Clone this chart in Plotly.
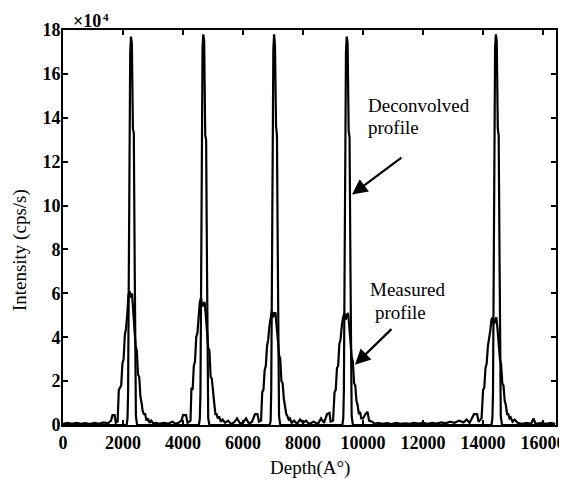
import plotly.graph_objects as go

# ---------------- data (depth in Å, intensity in units of 1e4 cps/s) ----------------
measured_depth = [
    0, 150, 300, 450, 600, 750, 900, 1050, 1200, 1350, 1500, 1600, 1650, 1720, 1760, 1820,
    1860, 1900, 1940, 1980, 2020, 2060, 2100, 2140, 2180, 2220, 2260, 2300, 2340, 2380, 2420,
    2460, 2500, 2540, 2580, 2620, 2660, 2700, 2740, 2780, 2830, 2880, 2940, 3000,
    3100, 3200, 3350, 3500, 3650, 3750, 3850, 3950, 4000, 4100, 4150, 4250,
    4280, 4320, 4360, 4400, 4440, 4480, 4520, 4560, 4600, 4640, 4680, 4720, 4760, 4800, 4840,
    4880, 4920, 4960, 5000, 5040, 5080, 5120, 5160, 5200, 5260, 5320, 5400,
    5500, 5600, 5700, 5800, 5900, 6000, 6100, 6200, 6300, 6400, 6480, 6530, 6600,
    6640, 6680, 6720, 6760, 6800, 6840, 6880, 6920, 6960, 7000, 7040, 7080, 7120, 7160, 7200,
    7240, 7280, 7320, 7360, 7400, 7440, 7480, 7520, 7560, 7620, 7700,
    7800, 7900, 8000, 8100, 8200, 8350, 8500, 8600, 8700, 8800, 8880, 8920, 9000,
    9050, 9090, 9130, 9170, 9210, 9250, 9290, 9330, 9380, 9420, 9460, 9500, 9540, 9580, 9620,
    9660, 9700, 9740, 9780, 9820, 9860, 9900, 9940, 10000, 10080, 10150, 10200, 10300, 10400,
    10500, 10650, 10800, 10950, 11100, 11250, 11400, 11550, 11700, 11850, 12000, 12150, 12300,
    12450, 12600, 12750, 12900, 13050, 13200, 13350, 13450, 13550, 13700, 13800, 13850, 13950,
    14000, 14040, 14080, 14120, 14160, 14200, 14240, 14280, 14320, 14360, 14400, 14440, 14480,
    14520, 14560, 14600, 14640, 14680, 14720, 14760, 14800, 14840, 14880, 14920, 14980,
    15050, 15150, 15300, 15450, 15600, 15680, 15750, 15950, 16100, 16250, 16400,
]
measured_intensity = [
    0.05, 0.1, 0.05, 0.1, 0.05, 0.08, 0.04, 0.1, 0.05, 0.12, 0.08, 0.2, 0.45, 0.45, 0.1, 0.15,
    1.6, 1.7, 1.8, 2.8, 3.0, 4.1, 4.4, 5.0, 5.9, 6.1, 5.8, 6.0, 5.3, 4.5, 3.6,
    3.4, 2.3, 2.2, 1.3, 1.0, 0.6, 0.5, 0.5, 0.2, 0.3, 0.1, 0.2, 0.08,
    0.1, 0.05, 0.1, 0.06, 0.15, 0.05, 0.1, 0.2, 0.45, 0.45, 0.1, 0.2,
    1.7, 1.6, 2.7, 2.9, 4.0, 4.2, 4.8, 5.6, 5.8, 5.4, 5.5, 5.6, 5.0, 4.3, 3.5,
    3.4, 2.2, 2.1, 1.3, 1.0, 0.5, 0.5, 0.3, 0.4, 0.15, 0.25, 0.1,
    0.2, 0.05, 0.12, 0.3, 0.08, 0.1, 0.3, 0.06, 0.15, 0.5, 0.5, 0.15, 0.2,
    1.5, 1.6, 2.5, 2.7, 3.6, 3.9, 4.5, 5.0, 5.2, 4.9, 5.1, 5.1, 4.6, 3.9, 3.2,
    3.0, 2.0, 1.9, 1.2, 0.9, 0.5, 0.4, 0.25, 0.3, 0.1, 0.2,
    0.05, 0.25, 0.1, 0.2, 0.05, 0.15, 0.05, 0.3, 0.1, 0.5, 0.55, 0.15, 0.2,
    1.5, 1.6, 2.6, 2.7, 3.7, 3.9, 4.5, 4.9, 5.1, 4.8, 5.0, 5.1, 4.5, 3.8, 3.1,
    2.9, 1.9, 1.8, 1.1, 0.9, 0.5, 0.6, 0.3, 0.3, 0.5, 0.6, 0.2, 0.15, 0.05,
    0.1, 0.05, 0.08, 0.04, 0.1, 0.05, 0.08, 0.05, 0.1, 0.06, 0.1, 0.05, 0.1,
    0.06, 0.12, 0.08, 0.15, 0.1, 0.2, 0.12, 0.25, 0.1, 0.5, 0.5, 0.15, 0.3,
    1.6, 1.7, 2.6, 2.8, 3.6, 3.9, 4.3, 4.8, 4.9, 4.6, 4.8, 4.9, 4.4,
    3.7, 3.0, 2.8, 1.9, 1.8, 1.1, 0.9, 0.5, 0.5, 0.3, 0.35, 0.15,
    0.25, 0.1, 0.05, 0.1, 0.05, 0.3, 0.05, 0.1, 0.05, 0.1, 0.05,
]

deconvolved_depth = [
    0, 2120, 2150, 2170, 2190, 2210, 2240, 2265, 2295, 2330, 2360, 2390, 2410, 2430, 2470,
    4530, 4560, 4580, 4600, 4620, 4650, 4675, 4705, 4740, 4770, 4800, 4820, 4840, 4880,
    6890, 6920, 6940, 6960, 6980, 7010, 7035, 7065, 7100, 7130, 7160, 7180, 7200, 7240,
    9310, 9340, 9360, 9380, 9400, 9430, 9455, 9485, 9520, 9550, 9580, 9600, 9620, 9660,
    14280, 14310, 14330, 14350, 14370, 14400, 14425, 14455, 14490, 14520, 14550, 14570, 14590, 14630,
    16400,
]
deconvolved_intensity = [
    0, 0, 0.3, 1.5, 6.2, 12.7, 17.0, 17.7, 17.4, 13.5, 13.3, 7.2, 2.3, 0.4, 0,
    0, 0.3, 1.4, 5.8, 12.4, 17.2, 17.8, 17.5, 13.2, 13.0, 7.0, 2.1, 0.3, 0,
    0, 0.2, 1.6, 6.0, 12.9, 17.1, 17.8, 17.3, 13.6, 13.2, 7.4, 2.4, 0.4, 0,
    0, 0.3, 1.5, 6.1, 12.6, 17.0, 17.7, 17.4, 13.4, 13.1, 7.1, 2.2, 0.4, 0,
    0, 0.3, 1.4, 6.0, 12.8, 17.2, 17.8, 17.5, 13.5, 13.2, 7.3, 2.3, 0.4, 0,
    0,
]

x_ticks = [0, 2000, 4000, 6000, 8000, 10000, 12000, 14000, 16000]
y_ticks = [0, 2, 4, 6, 8, 10, 12, 14, 16, 18]

# ---------------- figure ----------------
SERIF = "Liberation Serif, Times New Roman, serif"

fig = go.Figure()
fig.add_trace(go.Scatter(x=measured_depth, y=measured_intensity, mode="lines",
                         line=dict(color="black", width=2.2), name="Measured profile"))
fig.add_trace(go.Scatter(x=deconvolved_depth, y=deconvolved_intensity, mode="lines",
                         line=dict(color="black", width=2.2), name="Deconvolved profile"))

axis_common = dict(showline=True, linecolor="black", linewidth=2, mirror="ticks",
                   ticks="inside", ticklen=5, tickwidth=2, tickcolor="black",
                   showgrid=False, zeroline=False, automargin=False,
                   tickfont=dict(family=SERIF, size=18, color="black", weight="bold"))

# the page body adds an 8px offset, so the figure is 8px smaller than the window
fig.update_layout(
    width=559, height=479,
    margin=dict(l=55, r=11, t=22, b=62),
    paper_bgcolor="white", plot_bgcolor="white",
    showlegend=False,
    xaxis=dict(range=[0, 16430], tickvals=x_ticks, ticktext=[str(v) for v in x_ticks],
               **axis_common),
    yaxis=dict(range=[0, 18], tickvals=y_ticks, ticktext=[str(v) for v in y_ticks],
               ticklabelstandoff=-3, **axis_common),
)

ann_font = dict(family=SERIF, size=19, color="black")
fig.add_annotation(text="Depth(A°)", xref="paper", yref="paper", x=0.5, y=-0.108,
                   xanchor="center", yanchor="middle", showarrow=False, font=ann_font)
fig.add_annotation(text="Intensity (cps/s)", xref="paper", yref="paper", x=-0.087, y=0.443,
                   xanchor="center", yanchor="middle", textangle=-90, showarrow=False,
                   font=ann_font)
fig.add_annotation(text="×10", xref="paper", yref="paper", x=0.016, y=1.054,
                   xanchor="left", yanchor="top", showarrow=False,
                   font=dict(family=SERIF, size=18, color="black", weight="bold"))
fig.add_annotation(text="4", xref="paper", yref="paper", x=0.077, y=1.054,
                   xanchor="left", yanchor="top", showarrow=False,
                   font=dict(family=SERIF, size=11, color="black", weight="bold"))

fig.add_annotation(text="Deconvolved", xref="paper", yref="paper", x=0.615, y=0.808,
                   xanchor="left", yanchor="middle", showarrow=False, font=ann_font)
fig.add_annotation(text="profile", xref="paper", yref="paper", x=0.615, y=0.752,
                   xanchor="left", yanchor="middle", showarrow=False, font=ann_font)
fig.add_annotation(text="Measured", xref="paper", yref="paper", x=0.618, y=0.342,
                   xanchor="left", yanchor="middle", showarrow=False, font=ann_font)
fig.add_annotation(text="profile", xref="paper", yref="paper", x=0.628, y=0.286,
                   xanchor="left", yanchor="middle", showarrow=False, font=ann_font)

# arrows
fig.add_annotation(x=9630, y=10.5, xref="x", yref="y", ax=51, ay=-38, text="",
                   showarrow=True, arrowhead=2, arrowsize=1.4, arrowwidth=2.2, arrowcolor="black")
fig.add_annotation(x=9730, y=2.75, xref="x", yref="y", ax=38, ay=-37, text="",
                   showarrow=True, arrowhead=2, arrowsize=1.4, arrowwidth=2.2, arrowcolor="black")

fig.write_html("out.html")
